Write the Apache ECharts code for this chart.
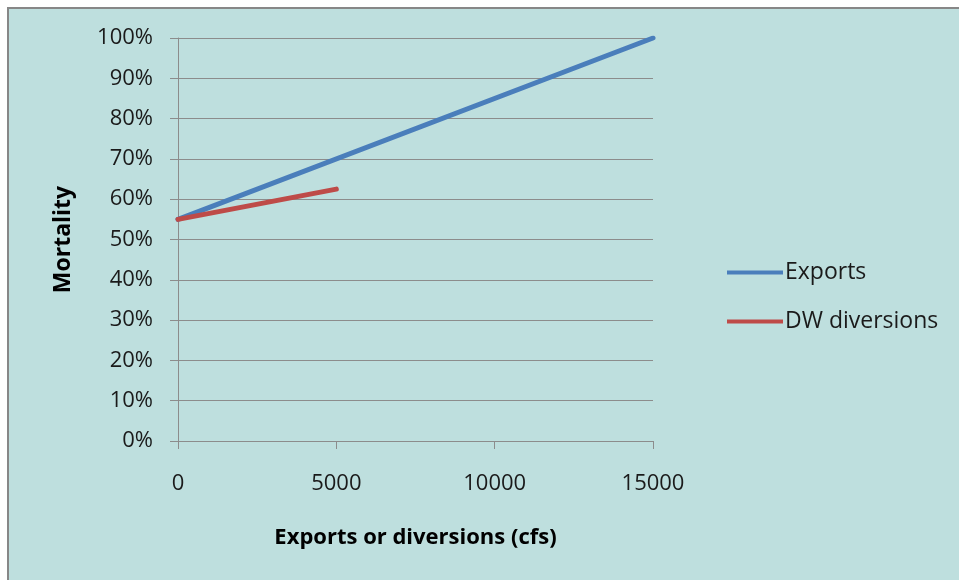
<!DOCTYPE html>
<html>
<head>
<meta charset="utf-8">
<script src="https://cdn.jsdelivr.net/npm/echarts@6/dist/echarts.min.js"></script>
<style>
  html, body { margin: 0; padding: 0; background: #ffffff; overflow: hidden; width: 959px; height: 580px; }
  #frame {
    position: absolute; left: 7px; top: 7px; width: 970px; height: 590px;
    border-top: 2px solid #878787; border-left: 2px solid #878787;
    background: #bedfde;
  }
  #chart { position: absolute; left: 0; top: 0; width: 959px; height: 580px; }
</style>
</head>
<body>
<div id="frame"></div>
<div id="chart"></div>
<script>
// Mortality as a function of flow (cfs)
const exportsFlow = [0, 15000];
const exportsMortality = [55, 100];
const dwFlow = [0, 5000];
const dwMortality = [55, 62.5];
const seriesNames = ['Exports', 'DW diversions'];
const xAxisTitle = 'Exports or diversions (cfs)';
const yAxisTitle = 'Mortality';

const FONT = '"Open Sans", "Liberation Sans", sans-serif';
const GRID_COLOR = '#8c8c8c';

function legendAt(name, top) {
  return {
    orient: 'vertical',
    left: 727, top: top, padding: 0,
    itemWidth: 56, itemHeight: 14,
    icon: 'path://M0,0 L56,0 L56,4 L0,4 Z',
    textStyle: { fontSize: 23, color: '#1a1a1a', fontFamily: FONT, padding: [0, 0, 0, -3] },
    data: [name]
  };
}

const chart = echarts.init(document.getElementById('chart'));
chart.setOption({
  backgroundColor: 'transparent',
  animation: false,
  textStyle: { fontFamily: FONT },
  grid: { left: 178, right: 306, top: 38, bottom: 139, containLabel: false },
  legend: [legendAt(seriesNames[0], 261), legendAt(seriesNames[1], 310)],
  xAxis: {
    type: 'value', min: 0, max: 15000, interval: 5000,
    name: xAxisTitle, nameLocation: 'middle', nameGap: 86,
    nameTextStyle: { fontSize: 22, fontWeight: 'bold', color: '#000', fontFamily: FONT },
    axisLine: { show: true, lineStyle: { color: GRID_COLOR, width: 1 } },
    axisTick: { show: true, length: 8, inside: false, lineStyle: { color: GRID_COLOR } },
    axisLabel: { fontSize: 22, color: '#1a1a1a', margin: 32, fontFamily: FONT,
                 formatter: v => String(v) },
    splitLine: { show: false }
  },
  yAxis: {
    type: 'value', min: 0, max: 100, interval: 10,
    name: yAxisTitle, nameLocation: 'middle', nameGap: 103, nameRotate: 90,
    nameTextStyle: { fontSize: 23, fontWeight: 'bold', color: '#000', fontFamily: FONT },
    axisLine: { show: true, lineStyle: { color: GRID_COLOR, width: 1 } },
    axisTick: { show: true, length: 8, inside: false, lineStyle: { color: GRID_COLOR } },
    axisLabel: { fontSize: 22, color: '#1a1a1a', margin: 25, fontFamily: FONT,
                 formatter: v => v + '%' },
    splitLine: { show: true, lineStyle: { color: GRID_COLOR, width: 1 } }
  },
  series: [
    {
      name: seriesNames[0], type: 'line', symbol: 'none',
      data: exportsFlow.map((x, i) => [x, exportsMortality[i]]),
      lineStyle: { color: '#4a7ebb', width: 5, cap: 'round' },
      itemStyle: { color: '#4a7ebb' }
    },
    {
      name: seriesNames[1], type: 'line', symbol: 'none',
      data: dwFlow.map((x, i) => [x, dwMortality[i]]),
      lineStyle: { color: '#be4b48', width: 5, cap: 'round' },
      itemStyle: { color: '#be4b48' }
    }
  ]
});
</script>
</body>
</html>
